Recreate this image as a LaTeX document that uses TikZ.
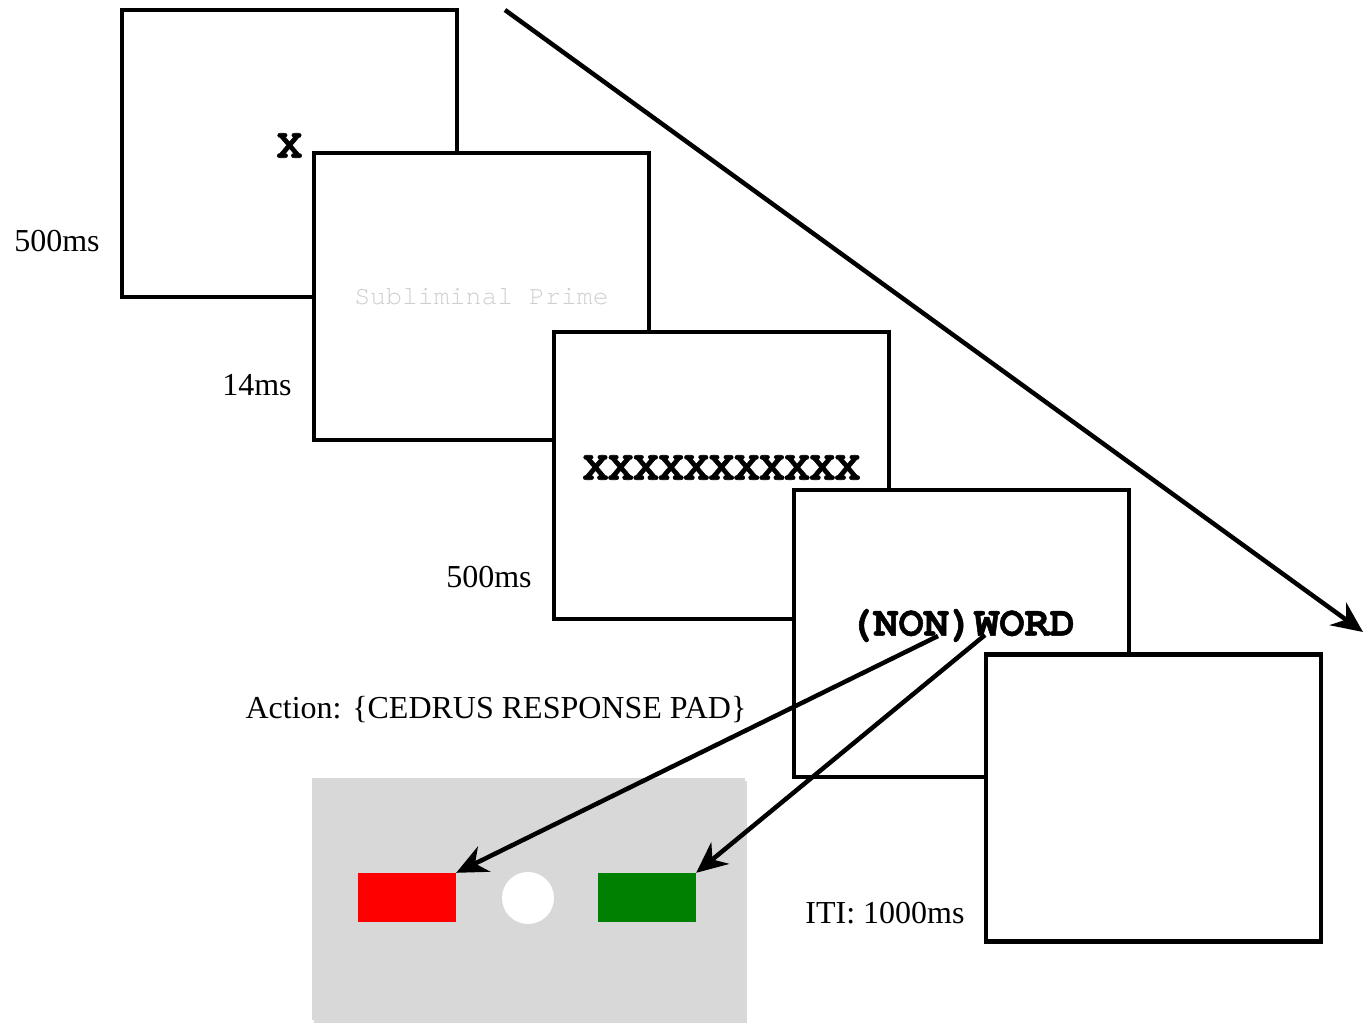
\documentclass[tikz,border=0pt]{standalone}
\usepackage{fontspec}
\setmainfont{Liberation Serif}
\setmonofont[BoldFeatures={FakeBold=1.3}]{TeX Gyre Cursor}
\usetikzlibrary{arrows.meta,shadows}
\definecolor{ink}{HTML}{000000}
\definecolor{faint}{HTML}{CFCFCF}
\definecolor{padgray}{HTML}{D8D8D8}
\definecolor{keyred}{HTML}{FF0000}
\definecolor{keygreen}{HTML}{008000}

\begin{document}
\begin{tikzpicture}[
  x=1pt, y=-1pt,
  font=\fontsize{32}{38}\selectfont,
  screen/.style={draw=ink, fill=white, line width=4.5pt, inner sep=0pt,
    minimum width=335pt, minimum height=287pt},
  cue/.style={font=\ttfamily\bfseries\fontsize{42}{46}\selectfont, inner sep=0pt},
  timing/.style={text=ink, inner sep=0pt},
  key/.style={inner sep=0pt, minimum width=98pt, minimum height=49pt},
  flow/.style={-{Stealth[length=31pt,width=28pt,inset=10pt]}, line width=4.5pt, ink}
]
  \useasboundingbox (0,0) rectangle (1364,1024);

  % trial sequence
  \node[screen] (fixation) at (289.5,153.5) {};
  \node[screen] (prime) at (481.5,296.5) {};
  \node[screen] (mask) at (721.5,475.5) {};
  \node[screen] (target) at (961.5,633.5) {};
  \node[screen] (iti) at (1153.5,798) {};

  \node[cue] (fixcross) at ([yshift=8pt]fixation.center) {X};
  \node[font=\ttfamily\fontsize{26.5}{30}\selectfont, text=faint, inner sep=0pt]
    (primetext) at (prime.center) {Subliminal Prime};
  \node[cue] (masktext) at ([yshift=8pt]mask.center) {XXXXXXXXXXX};
  \node[cue] (word) at ([yshift=8pt]target.center) {(NON)WORD};

  % durations
  \node[timing] (t1) at (57,241) {500ms};
  \node[timing] (t2) at (257,385) {14ms};
  \node[timing] (t3) at (489,577) {500ms};
  \node[timing] (act) at (496,710) {Action: \{CEDRUS RESPONSE PAD\}};
  \node[timing] (t5) at (885,913) {ITI: 1000ms};

  % response pad
  \node[fill=padgray, inner sep=0pt, minimum width=433pt, minimum height=242pt,
    drop shadow={shadow xshift=2pt, shadow yshift=-3pt, opacity=0.3}] (pad) at (528.5,899) {};
  \node[key, fill=keyred] (nonword) at (407,897.5) {};
  \node[circle, fill=white, inner sep=0pt, minimum size=52pt] (home) at (528,898) {};
  \node[key, fill=keygreen] (realword) at (647,897.5) {};

  \coordinate (timestart) at (505,10);
  \coordinate (timeend) at (1363,632);
  \coordinate (fromnon) at (938,636);
  \coordinate (fromword) at (985,635);

  \draw[flow] (timestart) -- (timeend);
  \draw[flow] (fromnon) -- (nonword.north east);
  \draw[flow] (fromword) -- (realword.north east);
\end{tikzpicture}
\end{document}
